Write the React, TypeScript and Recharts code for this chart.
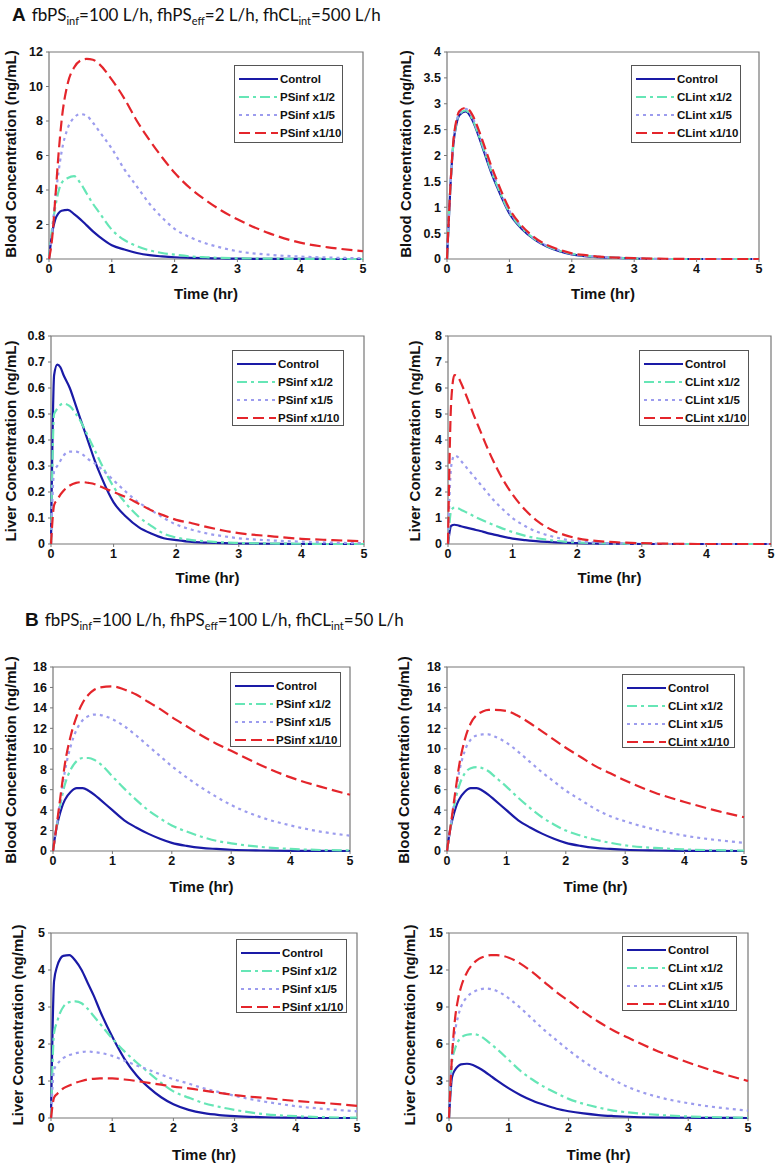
import React from 'react';
import { LineChart, Line, XAxis, YAxis, ReferenceArea } from 'recharts';

// sampling times (hr)
const time = [0, 0.05, 0.1, 0.15, 0.2, 0.3, 0.4, 0.5, 0.6, 0.7, 0.8, 1.0, 1.2, 1.4, 1.6, 1.8, 2.0, 2.25, 2.5, 2.75, 3.0, 3.5, 4.0, 4.5, 5.0];
const timeTicks = [0, 1, 2, 3, 4, 5];

// A - blood, PSinf reduction
const aBloodPsControl = [0, 1.5, 2.3, 2.65, 2.8, 2.85, 2.6, 2.3, 1.95, 1.6, 1.3, 0.8, 0.55, 0.35, 0.22, 0.15, 0.1, 0.07, 0.05, 0.03, 0.02, 0.01, 0.01, 0, 0];
const aBloodPsHalf = [0, 1.8, 3.0, 3.9, 4.4, 4.7, 4.8, 4.4, 3.8, 3.2, 2.7, 1.7, 1.1, 0.75, 0.5, 0.35, 0.25, 0.15, 0.1, 0.06, 0.04, 0.02, 0.01, 0, 0];
const aBloodPsFifth = [0, 1.5, 3.5, 5.0, 6.2, 7.6, 8.2, 8.4, 8.3, 7.9, 7.4, 6.4, 5.2, 4.2, 3.2, 2.4, 1.75, 1.25, 0.9, 0.65, 0.45, 0.25, 0.14, 0.08, 0.04];
const aBloodPsTenth = [0, 1.2, 3.5, 6.0, 8.0, 10.2, 11.1, 11.5, 11.6, 11.55, 11.3, 10.4, 9.3, 8.0, 6.9, 5.9, 5.0, 4.1, 3.4, 2.8, 2.3, 1.5, 0.95, 0.65, 0.45];

// A - blood, CLint reduction
const aBloodClControl = [0, 1.3, 2.2, 2.6, 2.78, 2.85, 2.7, 2.4, 2.05, 1.7, 1.4, 0.88, 0.58, 0.38, 0.24, 0.15, 0.09, 0.05, 0.03, 0.02, 0.01, 0, 0, 0, 0];
const aBloodClHalf = [0, 1.3, 2.2, 2.62, 2.8, 2.87, 2.72, 2.42, 2.08, 1.73, 1.43, 0.9, 0.6, 0.39, 0.25, 0.16, 0.1, 0.06, 0.035, 0.02, 0.01, 0, 0, 0, 0];
const aBloodClFifth = [0, 1.3, 2.22, 2.64, 2.83, 2.9, 2.76, 2.46, 2.12, 1.77, 1.47, 0.93, 0.62, 0.4, 0.26, 0.17, 0.1, 0.06, 0.04, 0.02, 0.01, 0, 0, 0, 0];
const aBloodClTenth = [0, 1.3, 2.25, 2.68, 2.86, 2.92, 2.8, 2.52, 2.18, 1.83, 1.52, 0.97, 0.64, 0.42, 0.27, 0.18, 0.11, 0.07, 0.04, 0.025, 0.015, 0.005, 0, 0, 0];

// A - liver, PSinf reduction
const aLiverPsControl = [0, 0.65, 0.69, 0.68, 0.65, 0.6, 0.53, 0.46, 0.39, 0.32, 0.26, 0.16, 0.105, 0.065, 0.04, 0.022, 0.015, 0.008, 0.005, 0.003, 0.002, 0.001, 0, 0, 0];
const aLiverPsHalf = [0, 0.5, 0.52, 0.535, 0.54, 0.53, 0.5, 0.46, 0.41, 0.36, 0.31, 0.22, 0.155, 0.105, 0.07, 0.04, 0.025, 0.015, 0.01, 0.006, 0.004, 0.002, 0.001, 0, 0];
const aLiverPsFifth = [0, 0.28, 0.3, 0.32, 0.34, 0.355, 0.355, 0.345, 0.325, 0.31, 0.29, 0.245, 0.2, 0.16, 0.13, 0.1, 0.075, 0.055, 0.04, 0.03, 0.022, 0.014, 0.009, 0.005, 0.003];
const aLiverPsTenth = [0, 0.15, 0.17, 0.19, 0.205, 0.225, 0.235, 0.238, 0.235, 0.23, 0.22, 0.2, 0.18, 0.155, 0.13, 0.11, 0.093, 0.08, 0.065, 0.052, 0.042, 0.03, 0.02, 0.015, 0.01];

// A - liver, CLint reduction
const aLiverClControl = [0, 0.7, 0.74, 0.72, 0.68, 0.62, 0.56, 0.5, 0.43, 0.37, 0.31, 0.21, 0.15, 0.1, 0.07, 0.05, 0.03, 0.02, 0.01, 0.01, 0, 0, 0, 0, 0];
const aLiverClHalf = [0, 1.3, 1.4, 1.38, 1.32, 1.2, 1.07, 0.95, 0.84, 0.74, 0.64, 0.46, 0.31, 0.21, 0.14, 0.09, 0.06, 0.03, 0.02, 0.01, 0.005, 0, 0, 0, 0];
const aLiverClFifth = [0, 3.0, 3.4, 3.35, 3.2, 2.9, 2.6, 2.3, 2.0, 1.7, 1.45, 1.0, 0.68, 0.45, 0.3, 0.18, 0.11, 0.06, 0.03, 0.02, 0.01, 0, 0, 0, 0];
const aLiverClTenth = [0, 5.5, 6.5, 6.45, 6.2, 5.6, 4.95, 4.35, 3.75, 3.2, 2.7, 1.9, 1.3, 0.85, 0.55, 0.35, 0.22, 0.13, 0.08, 0.05, 0.03, 0.01, 0, 0, 0];

// B - blood, PSinf reduction
const bBloodPsControl = [0, 2.0, 3.3, 4.3, 5.0, 5.8, 6.15, 6.15, 5.9, 5.5, 5.0, 4.0, 3.0, 2.3, 1.7, 1.2, 0.8, 0.5, 0.3, 0.2, 0.12, 0.05, 0.02, 0.01, 0];
const bBloodPsHalf = [0, 2.0, 3.8, 5.3, 6.5, 8.0, 8.8, 9.1, 9.1, 8.9, 8.5, 7.3, 6.1, 5.0, 4.0, 3.2, 2.5, 1.9, 1.4, 1.0, 0.75, 0.4, 0.2, 0.1, 0.05];
const bBloodPsFifth = [0, 2.0, 4.0, 6.0, 7.8, 10.3, 11.9, 12.8, 13.2, 13.35, 13.3, 12.9, 12.2, 11.3, 10.3, 9.3, 8.3, 7.2, 6.2, 5.3, 4.5, 3.3, 2.5, 1.9, 1.5];
const bBloodPsTenth = [0, 2.0, 4.2, 6.4, 8.5, 11.3, 13.2, 14.5, 15.3, 15.8, 16.0, 16.1, 15.8, 15.3, 14.6, 13.9, 13.1, 12.2, 11.3, 10.5, 9.8, 8.4, 7.2, 6.3, 5.5];

// B - blood, CLint reduction
const bBloodClControl = [0, 2.0, 3.3, 4.3, 5.0, 5.8, 6.15, 6.15, 5.9, 5.5, 5.0, 4.0, 3.0, 2.3, 1.7, 1.2, 0.8, 0.5, 0.3, 0.2, 0.12, 0.05, 0.02, 0.01, 0];
const bBloodClHalf = [0, 2.0, 3.8, 5.2, 6.3, 7.6, 8.1, 8.2, 8.1, 7.8, 7.3, 6.3, 5.2, 4.2, 3.3, 2.6, 2.0, 1.5, 1.1, 0.8, 0.55, 0.3, 0.15, 0.08, 0.04];
const bBloodClFifth = [0, 2.0, 4.0, 5.9, 7.6, 9.8, 10.9, 11.3, 11.4, 11.4, 11.2, 10.6, 9.7, 8.7, 7.7, 6.8, 5.9, 5.0, 4.1, 3.4, 2.9, 2.1, 1.5, 1.1, 0.8];
const bBloodClTenth = [0, 2.0, 4.1, 6.2, 8.2, 10.9, 12.5, 13.3, 13.65, 13.8, 13.8, 13.7, 13.2, 12.5, 11.7, 10.9, 10.1, 9.2, 8.3, 7.6, 6.9, 5.7, 4.8, 4.0, 3.3];

// B - liver, PSinf reduction
const bLiverPsControl = [0, 3.7, 4.1, 4.3, 4.38, 4.4, 4.25, 4.0, 3.65, 3.3, 2.9, 2.2, 1.6, 1.15, 0.82, 0.56, 0.37, 0.22, 0.13, 0.08, 0.05, 0.02, 0.01, 0, 0];
const bLiverPsHalf = [0, 2.3, 2.6, 2.85, 3.0, 3.13, 3.15, 3.1, 2.95, 2.75, 2.55, 2.15, 1.8, 1.5, 1.22, 0.95, 0.72, 0.55, 0.4, 0.3, 0.22, 0.1, 0.05, 0.02, 0.01];
const bLiverPsFifth = [0, 1.3, 1.45, 1.55, 1.62, 1.7, 1.75, 1.78, 1.8, 1.78, 1.76, 1.68, 1.55, 1.42, 1.3, 1.17, 1.05, 0.93, 0.8, 0.7, 0.6, 0.44, 0.32, 0.24, 0.18];
const bLiverPsTenth = [0, 0.55, 0.65, 0.72, 0.8, 0.88, 0.95, 1.0, 1.04, 1.06, 1.07, 1.07, 1.04, 1.0, 0.95, 0.9, 0.85, 0.8, 0.74, 0.68, 0.62, 0.54, 0.46, 0.4, 0.33];

// B - liver, CLint reduction
const bLiverClControl = [0, 3.3, 3.9, 4.2, 4.35, 4.4, 4.3, 4.05, 3.75, 3.4, 3.05, 2.4, 1.85, 1.4, 1.05, 0.75, 0.55, 0.37, 0.24, 0.16, 0.1, 0.04, 0.02, 0.01, 0];
const bLiverClHalf = [0, 4.5, 5.6, 6.2, 6.5, 6.75, 6.8, 6.7, 6.4, 6.0, 5.6, 4.7, 3.8, 3.1, 2.5, 2.0, 1.55, 1.15, 0.85, 0.6, 0.45, 0.25, 0.12, 0.06, 0.03];
const bLiverClFifth = [0, 5.0, 7.0, 8.2, 9.0, 9.8, 10.2, 10.4, 10.5, 10.45, 10.3, 9.7, 8.9, 8.0, 7.1, 6.3, 5.5, 4.6, 3.8, 3.1, 2.5, 1.7, 1.2, 0.85, 0.6];
const bLiverClTenth = [0, 5.0, 8.0, 9.6, 10.6, 11.8, 12.5, 12.9, 13.1, 13.2, 13.2, 13.0, 12.5, 11.8, 11.0, 10.2, 9.5, 8.6, 7.8, 7.1, 6.5, 5.4, 4.5, 3.7, 3.0];

// y tick sets
const ticks0to12 = [0, 2, 4, 6, 8, 10, 12];
const ticks0to4 = [0, 0.5, 1, 1.5, 2, 2.5, 3, 3.5, 4];
const ticks0to08 = [0, 0.1, 0.2, 0.3, 0.4, 0.5, 0.6, 0.7, 0.8];
const ticks0to8 = [0, 1, 2, 3, 4, 5, 6, 7, 8];
const ticks0to18 = [0, 2, 4, 6, 8, 10, 12, 14, 16, 18];
const ticks0to5 = [0, 1, 2, 3, 4, 5];
const ticks0to15 = [0, 3, 6, 9, 12, 15];

const psNames = ['Control', 'PSinf x1/2', 'PSinf x1/5', 'PSinf x1/10'];
const clNames = ['Control', 'CLint x1/2', 'CLint x1/5', 'CLint x1/10'];

const seriesStyle = [
  { color: '#1a1aa6', dash: undefined },
  { color: '#66e6b6', dash: '10 4 3 4' },
  { color: '#9c9cee', dash: '3 4' },
  { color: '#e4252b', dash: '11 5' },
];

const FONT = '"Liberation Sans", Arial, sans-serif';

const buildRows = (series: number[][]) =>
  time.map((t, i) => {
    const row: Record<string, number> = { t };
    series.forEach((s, k) => {
      row['s' + k] = s[i];
    });
    return row;
  });

interface PanelProps {
  box: { x: number; y: number; w: number; h: number };
  yTicks: number[];
  series: number[][];
  names: string[];
  legend: { x: number; y: number; w: number; h: number };
  yLabel: string;
  yLabelPos: [number, number];
  xLabelY: number;
}

const Legend = ({ legend, names }: { legend: PanelProps['legend']; names: string[] }) => (
  <div
    style={{
      position: 'absolute',
      left: legend.x,
      top: legend.y,
      width: legend.w,
      height: legend.h,
      border: '1px solid #555',
      background: '#fff',
      boxSizing: 'border-box',
      paddingTop: 4,
    }}
  >
    {names.map((n, i) => (
      <div key={n} style={{ display: 'flex', alignItems: 'center', height: 18 }}>
        <svg width={42} height={8} style={{ marginLeft: 3 }}>
          <line
            x1={1}
            y1={4}
            x2={40}
            y2={4}
            stroke={seriesStyle[i].color}
            strokeWidth={2}
            strokeDasharray={seriesStyle[i].dash}
          />
        </svg>
        <span style={{ fontFamily: FONT, fontWeight: 'bold', fontSize: 11.5, color: '#111' }}>{n}</span>
      </div>
    ))}
  </div>
);

const Panel = ({ box, yTicks, series, names, legend, yLabel, yLabelPos, xLabelY }: PanelProps) => {
  const data = buildRows(series);
  const yMax = yTicks[yTicks.length - 1];
  const tickStyle = { fontFamily: FONT, fontWeight: 'bold' as const, fontSize: 12.5, fill: '#111' };
  return (
    <>
      <div style={{ position: 'absolute', left: box.x - 40, top: box.y - 12 }}>
        <LineChart
          width={box.w + 46}
          height={box.h + 42}
          data={data}
          margin={{ top: 12, right: 6, left: 5, bottom: 5 }}
        >
          <XAxis
            dataKey="t"
            type="number"
            domain={[0, 5]}
            ticks={timeTicks}
            height={25}
            tick={tickStyle}
            tickSize={3}
            tickMargin={2}
            axisLine={false}
            tickLine={{ stroke: '#777' }}
          />
          <YAxis
            type="number"
            domain={[0, yMax]}
            ticks={yTicks}
            width={35}
            tick={tickStyle}
            tickSize={3}
            tickMargin={3}
            axisLine={false}
            tickLine={{ stroke: '#777' }}
            interval={0}
          />
          <ReferenceArea x1={0} x2={5} y1={0} y2={yMax} fill="#fff" fillOpacity={0} stroke="#777" strokeWidth={1.2} />
          {series.map((_, k) => (
            <Line
              key={k}
              type="monotone"
              dataKey={'s' + k}
              stroke={seriesStyle[k].color}
              strokeWidth={2.2}
              strokeDasharray={seriesStyle[k].dash}
              dot={false}
              activeDot={false}
              isAnimationActive={false}
            />
          ))}
        </LineChart>
      </div>
      <Legend legend={legend} names={names} />
      <div
        style={{
          position: 'absolute',
          left: yLabelPos[0],
          top: yLabelPos[1],
          transform: 'translate(-50%, -50%) rotate(-90deg)',
          whiteSpace: 'nowrap',
          fontFamily: FONT,
          fontWeight: 'bold',
          fontSize: 15,
          lineHeight: 1,
          color: '#111',
        }}
      >
        {yLabel}
      </div>
      <div
        style={{
          position: 'absolute',
          left: box.x + box.w / 2,
          top: xLabelY,
          transform: 'translate(-50%, -50%)',
          whiteSpace: 'nowrap',
          fontFamily: FONT,
          fontWeight: 'bold',
          fontSize: 15,
          lineHeight: 1,
          color: '#111',
        }}
      >
        Time (hr)
      </div>
    </>
  );
};

const Title = ({ letter, x, y, eff, cl }: { letter: string; x: number; y: number; eff: string; cl: string }) => {
  const sub = { fontSize: 11, verticalAlign: '-4px' };
  return (
    <div
      style={{
        position: 'absolute',
        left: x,
        top: y,
        whiteSpace: 'nowrap',
        fontFamily: 'Lato, "Open Sans", sans-serif',
        fontSize: 17,
        lineHeight: 1,
        color: '#111',
      }}
    >
      <span style={{ fontFamily: FONT, fontWeight: 'bold', fontSize: 19, marginRight: 6 }}>{letter}</span>
      fbPS<span style={sub}>inf</span>=100 L/h, fhPS<span style={sub}>eff</span>={eff} L/h, fhCL
      <span style={sub}>int</span>={cl} L/h
    </div>
  );
};

const BL = 'Blood Concentration (ng/mL)';
const LL = 'Liver Concentration (ng/mL)';

export default function App() {
  return (
    <div
      style={{
        position: 'absolute',
        left: 0,
        top: 0,
        width: 777,
        height: 1163,
        overflow: 'hidden',
        background: '#fff',
      }}
    >
      <Title letter="A" x={12} y={5} eff="2" cl="500" />
      <Title letter="B" x={25} y={610} eff="100" cl="50" />

      <Panel
        box={{ x: 49, y: 52, w: 314, h: 207 }}
        yTicks={ticks0to12}
        series={[aBloodPsControl, aBloodPsHalf, aBloodPsFifth, aBloodPsTenth]}
        names={psNames}
        legend={{ x: 234, y: 65, w: 109, h: 78 }}
        yLabel={BL}
        yLabelPos={[10, 154]}
        xLabelY={293}
      />
      <Panel
        box={{ x: 447, y: 52, w: 312, h: 207 }}
        yTicks={ticks0to4}
        series={[aBloodClControl, aBloodClHalf, aBloodClFifth, aBloodClTenth]}
        names={clNames}
        legend={{ x: 631, y: 65, w: 110, h: 78 }}
        yLabel={BL}
        yLabelPos={[405, 154]}
        xLabelY={293}
      />
      <Panel
        box={{ x: 51, y: 336, w: 313, h: 208 }}
        yTicks={ticks0to08}
        series={[aLiverPsControl, aLiverPsHalf, aLiverPsFifth, aLiverPsTenth]}
        names={psNames}
        legend={{ x: 232, y: 350, w: 112, h: 76 }}
        yLabel={LL}
        yLabelPos={[10, 441]}
        xLabelY={577}
      />
      <Panel
        box={{ x: 448, y: 336, w: 323, h: 208 }}
        yTicks={ticks0to8}
        series={[aLiverClControl, aLiverClHalf, aLiverClFifth, aLiverClTenth]}
        names={clNames}
        legend={{ x: 639, y: 350, w: 110, h: 76 }}
        yLabel={LL}
        yLabelPos={[414, 441]}
        xLabelY={577}
      />
      <Panel
        box={{ x: 53, y: 667, w: 297, h: 184 }}
        yTicks={ticks0to18}
        series={[bBloodPsControl, bBloodPsHalf, bBloodPsFifth, bBloodPsTenth]}
        names={psNames}
        legend={{ x: 230, y: 672, w: 111, h: 75 }}
        yLabel={BL}
        yLabelPos={[10, 760]}
        xLabelY={886}
      />
      <Panel
        box={{ x: 447, y: 667, w: 297, h: 184 }}
        yTicks={ticks0to18}
        series={[bBloodClControl, bBloodClHalf, bBloodClFifth, bBloodClTenth]}
        names={clNames}
        legend={{ x: 622, y: 674, w: 113, h: 74 }}
        yLabel={BL}
        yLabelPos={[403, 760]}
        xLabelY={886}
      />
      <Panel
        box={{ x: 51, y: 933, w: 306, h: 185 }}
        yTicks={ticks0to5}
        series={[bLiverPsControl, bLiverPsHalf, bLiverPsFifth, bLiverPsTenth]}
        names={psNames}
        legend={{ x: 236, y: 939, w: 111, h: 74 }}
        yLabel={LL}
        yLabelPos={[17, 1025]}
        xLabelY={1154}
      />
      <Panel
        box={{ x: 449, y: 933, w: 299, h: 185 }}
        yTicks={ticks0to15}
        series={[bLiverClControl, bLiverClHalf, bLiverClFifth, bLiverClTenth]}
        names={clNames}
        legend={{ x: 622, y: 936, w: 115, h: 75 }}
        yLabel={LL}
        yLabelPos={[409, 1025]}
        xLabelY={1154}
      />
    </div>
  );
}
